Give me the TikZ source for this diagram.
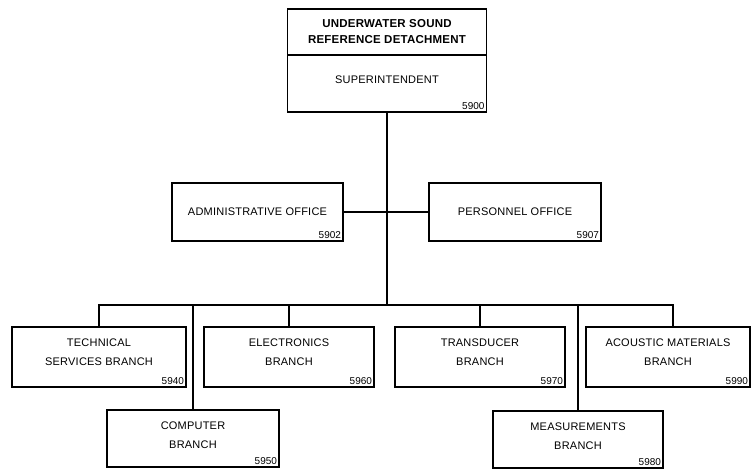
\documentclass[tikz,border=0pt]{standalone}
\usepackage{fontspec}
\setmainfont{Liberation Sans}
\newfontfamily\orgfont[LetterSpace=2]{Liberation Sans}
\usepackage{tikz}
\usetikzlibrary{positioning}

\begin{document}
\begin{tikzpicture}[x=1pt, y=-1pt,
            unit/.style   ={rectangle, draw, line width=1.3pt, inner sep=0pt},
            title/.style  ={align=center, font=\orgfont\fontsize{11.5}{16}\selectfont\bfseries},
            caption/.style={align=center, font=\orgfont\fontsize{11}{19}\selectfont},
            code/.style   ={anchor=south east, inner sep=2.5pt, font=\fontsize{10}{10}\selectfont},
            link/.style   ={line width=2pt}
        ]
            \useasboundingbox[fill=white] (0,0) rectangle (751,469);

            % head of the detachment
            \node[unit, minimum width=199pt, minimum height=46pt] (head)  at (387,32)   {};
            \node[unit, minimum width=199pt, minimum height=57pt] (super) at (387,83.5) {};
            \node[title]   (headtxt)  at (head)                  {UNDERWATER SOUND\\REFERENCE DETACHMENT};
            \node[caption] (supertxt) at ([yshift=3.5pt]super.center) {SUPERINTENDENT};
            \node[code]    (n5900)    at (super.south east)      {5900};

            % staff offices
            \node[unit, minimum width=171pt, minimum height=58pt] (admin) at (257.5,212) {};
            \node[unit, minimum width=172pt, minimum height=58pt] (pers)  at (515,212)   {};
            \node[caption] (admintxt) at (admin)            {ADMINISTRATIVE OFFICE};
            \node[caption] (perstxt)  at (pers)             {PERSONNEL OFFICE};
            \node[code]    (n5902)    at (admin.south east) {5902};
            \node[code]    (n5907)    at (pers.south east)  {5907};

            % branches
            \node[unit, minimum width=174pt, minimum height=60pt] (tech)  at (99,357)    {};
            \node[unit, minimum width=170pt, minimum height=60pt] (elec)  at (289,357)   {};
            \node[unit, minimum width=170pt, minimum height=60pt] (trans) at (480,357)   {};
            \node[unit, minimum width=164pt, minimum height=60pt] (acou)  at (668,357)   {};
            \node[unit, minimum width=172pt, minimum height=57pt] (comp)  at (193,438.5) {};
            \node[unit, minimum width=170pt, minimum height=57pt] (meas)  at (578,439.5) {};

            \node[caption] (techtxt)  at ([yshift=4.5pt]tech.center)  {TECHNICAL\\SERVICES BRANCH};
            \node[caption] (electxt)  at ([yshift=4.5pt]elec.center)  {ELECTRONICS\\BRANCH};
            \node[caption] (transtxt) at ([yshift=4.5pt]trans.center) {TRANSDUCER\\BRANCH};
            \node[caption] (acoutxt)  at ([yshift=4.5pt]acou.center)  {ACOUSTIC MATERIALS\\BRANCH};
            \node[caption] (comptxt)  at ([yshift=3pt]comp.center)    {COMPUTER\\BRANCH};
            \node[caption] (meastxt)  at ([yshift=3pt]meas.center)    {MEASUREMENTS\\BRANCH};

            \node[code] (n5940) at (tech.south east)  {5940};
            \node[code] (n5960) at (elec.south east)  {5960};
            \node[code] (n5970) at (trans.south east) {5970};
            \node[code] (n5990) at (acou.south east)  {5990};
            \node[code] (n5950) at (comp.south east)  {5950};
            \node[code] (n5980) at (meas.south east)  {5980};

            % lines
            \coordinate (bus) at (387,305);
            \draw[link] (super.south) -- (bus);
            \draw[link] (admin.east) -- (pers.west);
            \draw[link] (tech.north) |- (bus) -| ([xshift=5pt]acou.north);
            \draw[link] (comp.north)  -- (comp.north  |- bus);
            \draw[link] (elec.north)  -- (elec.north  |- bus);
            \draw[link] (trans.north) -- (trans.north |- bus);
            \draw[link] (meas.north)  -- (meas.north  |- bus);

        \end{tikzpicture}
\end{document}
